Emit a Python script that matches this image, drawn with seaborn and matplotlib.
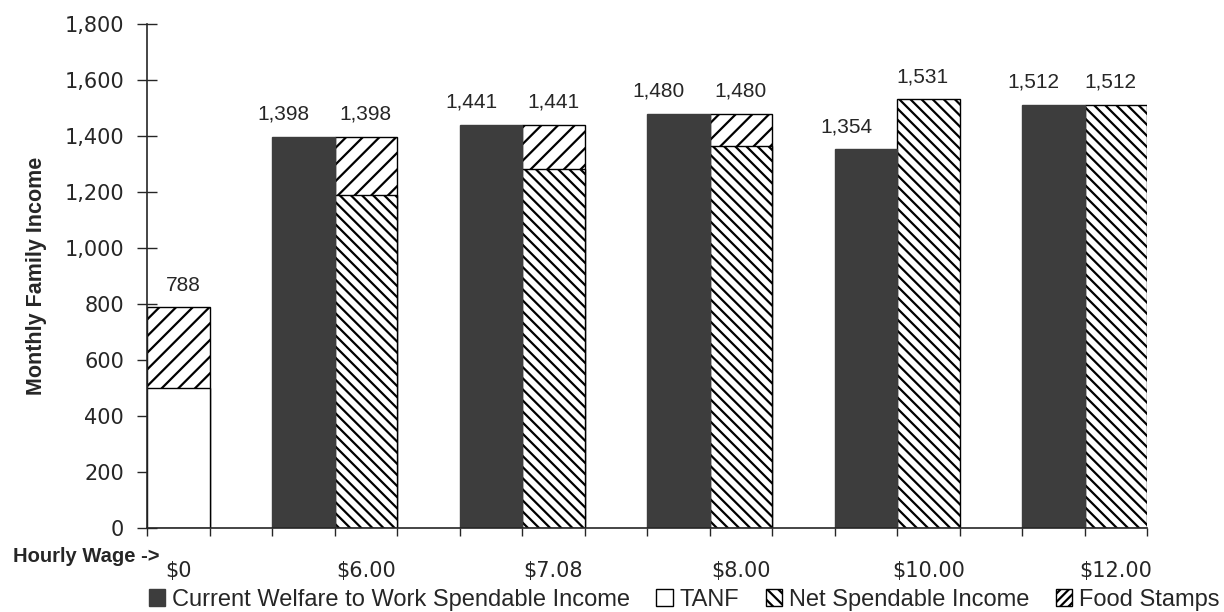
import numpy as np
import pandas as pd
import matplotlib
matplotlib.use("Agg")
import matplotlib.pyplot as plt
from matplotlib.patches import Patch
from matplotlib.ticker import FuncFormatter, FixedLocator
import seaborn as sns

# ---- data ----
wages = ["$0", "$6.00", "$7.08", "$8.00", "$10.00", "$12.00"]
current_w2w = [np.nan, 1398, 1441, 1480, 1354, 1512]   # Current Welfare to Work Spendable Income
tanf = [500, 0, 0, 0, 0, 0]                             # TANF
net_spendable = [0, 1190, 1282, 1364, 1531, 1512]        # Net Spendable Income
food_stamps = [288, 208, 159, 116, 0, 0]                 # Food Stamps
y_ticks = [0, 200, 400, 600, 800, 1000, 1200, 1400, 1600, 1800]

sns.set_style("ticks")
plt.rcParams["font.family"] = ["Liberation Sans", "DejaVu Sans"]
plt.rcParams["hatch.linewidth"] = 1.6
plt.rcParams["hatch.color"] = "black"

DARK = "#3d3d3d"
n_groups = len(wages)
n_slots = 3 * n_groups - 2          # 16 category slots on the axis
slot_names = [f"s{i}" for i in range(n_slots)]


def slot_frame(values, offset):
    """Map per-wage values to axis slots (right bar: 3g, left bar: 3g-1)."""
    rows = []
    for g, v in enumerate(values):
        s = 3 * g + offset
        if s < 0 or v is None or (isinstance(v, float) and np.isnan(v)) or v == 0:
            continue
        rows.append({"slot": slot_names[s], "value": v})
    return pd.DataFrame(rows)


totals = [t + n + f for t, n, f in zip(tanf, net_spendable, food_stamps)]
fs_top = [tot if f > 0 else 0 for tot, f in zip(totals, food_stamps)]

fig, ax = plt.subplots(figsize=(12.24, 6.12), dpi=100)
fig.subplots_adjust(left=0.1201, right=0.9371, bottom=0.1373, top=0.9608)

common = dict(x="slot", y="value", order=slot_names, width=1.0, errorbar=None,
              saturation=1, ax=ax, edgecolor="black", linewidth=1.0)

# food stamps (upper part of stacked bars) - drawn at full total height
sns.barplot(data=slot_frame(fs_top, 0), color="white", hatch="//", **common)
# net spendable income (lower part)
sns.barplot(data=slot_frame(net_spendable, 0), color="white", hatch="\\\\\\", **common)
# TANF
sns.barplot(data=slot_frame(tanf, 0), color="white", **common)
# current welfare to work
cw = dict(common)
cw["edgecolor"] = DARK
sns.barplot(data=slot_frame(current_w2w, -1), color=DARK, **cw)

# value labels
for g in range(n_groups):
    if not np.isnan(current_w2w[g]):
        ax.annotate(f"{int(current_w2w[g]):,}", (3 * g - 1, current_w2w[g]),
                    xytext=(-14, 12), textcoords="offset points",
                    ha="center", va="baseline", fontsize=15)
    ax.annotate(f"{int(totals[g]):,}", (3 * g, totals[g]),
                xytext=(-4 if g >= 4 else (4 if g == 0 else 0), 12),
                textcoords="offset points",
                ha="center", va="baseline", fontsize=15)

ax.set_xlim(-0.5, n_slots - 0.5)
ax.set_ylim(0, 1800)
ax.set_yticks(y_ticks)
ax.yaxis.set_major_formatter(FuncFormatter(lambda v, p: f"{int(v):,}"))
ax.tick_params(axis="y", direction="inout", length=15, width=1, pad=9)
for lab in ax.get_yticklabels():
    lab.set_fontfamily("DejaVu Sans")
    lab.set_fontsize(15)

ax.set_xticks([3 * g for g in range(n_groups)])
ax.set_xticklabels(wages, fontfamily="DejaVu Sans", fontsize=15)
ax.xaxis.set_minor_locator(FixedLocator([i - 0.5 for i in range(n_slots + 1)]))
ax.tick_params(axis="x", which="major", length=0, pad=24)
ax.tick_params(axis="x", which="minor", direction="out", length=6, width=1)

ax.set_xlabel("")
ax.set_ylabel("Monthly Family Income", fontsize=15.5, fontweight="bold")
ax.yaxis.set_label_coords(-0.10, 0.5)

sns.despine(ax=ax)
for sp in ("left", "bottom"):
    ax.spines[sp].set_linewidth(1.2)

fig.text(0.011, 1 - 556 / 612, "Hourly Wage ->", fontsize=14.5, fontweight="bold",
         ha="left", va="center")

handles = [
    Patch(facecolor=DARK, edgecolor=DARK, label="Current Welfare to Work Spendable Income"),
    Patch(facecolor="white", edgecolor="black", label="TANF"),
    Patch(facecolor="white", edgecolor="black", hatch="\\\\\\", label="Net Spendable Income"),
    Patch(facecolor="white", edgecolor="black", hatch="////", label="Food Stamps"),
]
fig.legend(handles=handles, loc="center", bbox_to_anchor=(0.559, 1 - 600 / 612),
           ncol=4, frameon=False, fontsize=17, handlelength=0.7, handleheight=0.7,
           handletextpad=0.3, columnspacing=1.1, borderpad=0.1)

fig.savefig("out.png", dpi=100)
